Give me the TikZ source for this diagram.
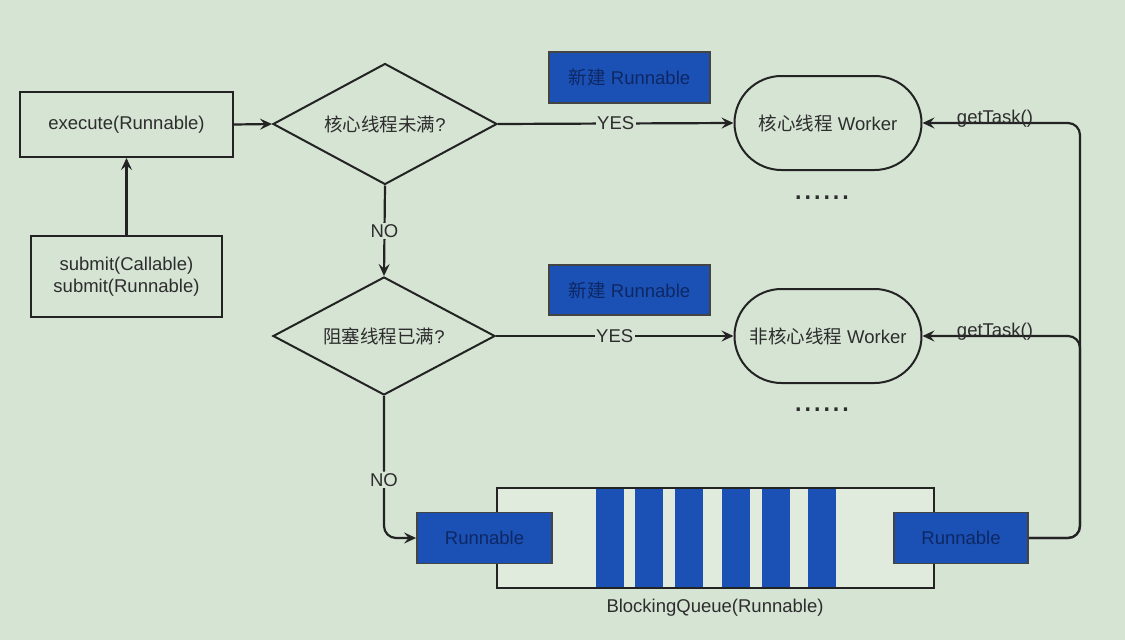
\documentclass[tikz,border=0pt]{standalone}
\usepackage{fontspec}
\setmainfont{Liberation Sans}
\newfontfamily\cjk{Noto Sans CJK SC}
\usetikzlibrary{shapes.geometric,shapes.misc,arrows.meta}
\definecolor{bgc}{RGB}{214,228,212}
\definecolor{qfill}{RGB}{224,235,222}
\definecolor{bluef}{RGB}{27,80,180}
\definecolor{bluet}{RGB}{14,40,100}
\definecolor{linec}{RGB}{35,35,35}
\definecolor{txtc}{RGB}{45,45,45}
\begin{document}
\begin{tikzpicture}[x=1pt,y=-1pt,
  every node/.style={font=\fontsize{18.5}{22}\selectfont, text=txtc},
  boxn/.style={draw=linec, line width=2pt, rectangle, inner sep=0pt},
  dia/.style={draw=linec, line width=2pt, diamond, aspect=1.85, inner sep=0pt},
  worker/.style={draw=linec, line width=2pt, rounded rectangle, rounded rectangle arc length=180, inner sep=0pt, minimum width=187, minimum height=94},
  bluebox/.style={draw=linec!85, line width=1.8pt, fill=bluef, rectangle, inner sep=0pt, text=bluet},
  conn/.style={draw=linec, line width=2.2pt},
  arr/.style={conn, -{Stealth[length=12pt,width=11pt,inset=4.5pt]}},
  lbl/.style={fill=bgc, inner sep=1.5pt}
]
\useasboundingbox (0,0) rectangle (1125,640);
\fill[bgc] (0,0) rectangle (1125,640);

% left boxes
\node[boxn, minimum width=213, minimum height=65] (exe) at (126.5,124.5) {execute(Runnable)};
\node[boxn, minimum width=191, minimum height=81, align=center] (sub) at (126.5,276.5) {submit(Callable)\\submit(Runnable)};

% decisions
\node[dia, minimum width=224, minimum height=121] (d1) at (385,124) {{\cjk 核心线程未满}?};
\node[dia, minimum width=222, minimum height=118] (d2) at (384,336) {{\cjk 阻塞线程已满}?};

% new runnable boxes
\node[bluebox, minimum width=161, minimum height=51] (nb1) at (629.5,77.5) {{\cjk 新建} Runnable};
\node[bluebox, minimum width=161, minimum height=50] (nb2) at (629.5,290) {{\cjk 新建} Runnable};

% workers
\node[worker] (w1) at (828,123) {{\cjk 核心线程} Worker};
\node[worker] (w2) at (828,336) {{\cjk 非核心线程} Worker};
\node[anchor=base, font=\fontsize{34}{34}\selectfont] (dots1) at (822,199) {......};
\node[anchor=base, font=\fontsize{34}{34}\selectfont] (dots2) at (822,411) {......};

% queue
\node[boxn, fill=qfill, minimum width=437, minimum height=100] (q) at (715.5,538) {};
\foreach \bx in {596,635,675,722,762,808}
  \fill[bluef] (\bx,489) rectangle (\bx+28,587);
\node (qlabel) at (715,608) {BlockingQueue(Runnable)};
\node[bluebox, minimum width=135, minimum height=51] (rL) at (484.5,538) {Runnable};
\node[bluebox, minimum width=134, minimum height=51] (rR) at (961,538) {Runnable};

% connectors
\draw[arr] (sub.north) -- (exe.south);
\draw[arr] (exe.east) -- (d1.west);
\draw[arr] (d1.east) -- node[lbl]{YES} (w1.west);
\draw[arr] (d1.south) -- node[lbl]{NO} (d2.north);
\draw[arr] (d2.east) -- node[lbl]{YES} (w2.west);
\coordinate (cNO) at (384,538);
\draw[arr, rounded corners=12pt] (d2.south) -- node[lbl, pos=0.59]{NO} (cNO) -- (rL.west);

\coordinate (cR) at (1080,538);
\coordinate (cW1) at (1080,123);
\coordinate (cW2) at (1080,336);
\draw[arr, rounded corners=12pt] (rR.east) -- (cR) -- (cW1) -- (w1.east);
\draw[arr, rounded corners=12pt] (rR.east) -- (cR) -- (cW2) -- (w2.east);
\node[anchor=base] (gt1) at (995,123) {getTask()};
\node[anchor=base] (gt2) at (995,336) {getTask()};
\end{tikzpicture}
\end{document}
